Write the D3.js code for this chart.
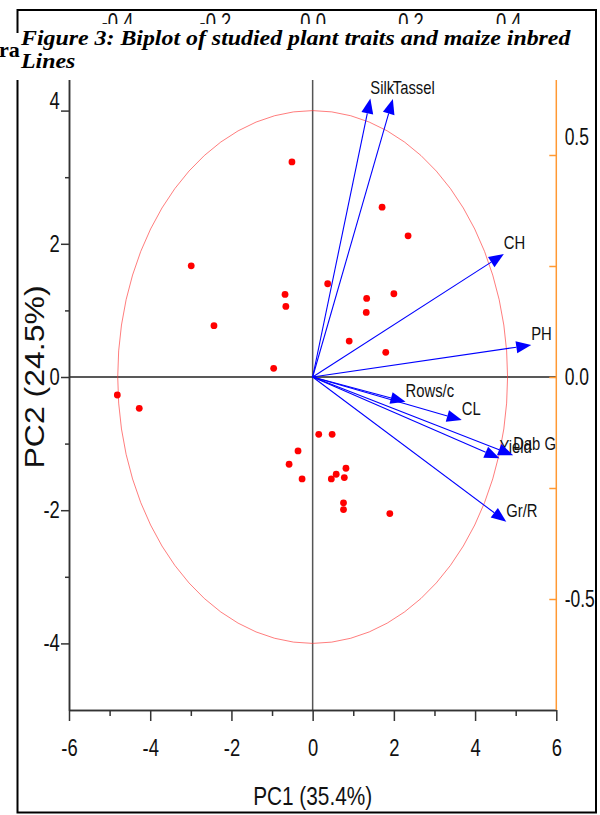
<!DOCTYPE html>
<html>
<head>
<meta charset="utf-8">
<script src="https://cdn.jsdelivr.net/npm/d3@7"></script>
<style>
  html, body { margin: 0; padding: 0; background: #fff; }
  svg { display: block; }
  text { font-family: "Liberation Sans", Arial, sans-serif; }
</style>
</head>
<body>
<svg id="chart" width="600" height="815"></svg>
<script>
// Principal component scores of the maize inbred lines
const scoresPC1 = [-0.51, 1.71, 2.35, -2.99, 0.37, -0.68, -0.66, 1.33, 2.00, 1.32,
                   -2.43, 0.90, 1.80, -0.96, -4.81, -4.27, 0.15, 0.48, -0.36, -0.58,
                   -0.26, 0.82, 0.58, 0.46, 0.78, 0.76, 0.76, 1.90];
const scoresPC2 = [3.23, 2.55, 2.12, 1.67, 1.40, 1.24, 1.06, 1.18, 1.25, 0.97,
                   0.77, 0.54, 0.37, 0.13, -0.27, -0.47, -0.86, -0.86, -1.11, -1.31,
                   -1.53, -1.37, -1.46, -1.53, -1.51, -1.89, -1.99, -2.05];

// Trait loadings, read on the top (PC1) and right (PC2) axes
const traits  = ["Silk", "Tassel", "CH", "PH", "Rows/c", "CL", "Yield", "Dab G", "Gr/R"];
const loadPC1 = [0.118, 0.164, 0.391, 0.447, 0.190, 0.305, 0.382, 0.410, 0.396];
const loadPC2 = [0.627, 0.626, 0.277, 0.072, -0.056, -0.097, -0.183, -0.176, -0.326];

// Axis ticks
const pc1Major = [-6, -4, -2, 0, 2, 4, 6];
const pc1Minor = [-5, -3, -1, 1, 3, 5];
const pc2Major = [-4, -2, 0, 2, 4];
const pc2Minor = [-3, -1, 1, 3];
const loadXTicks = [-0.4, -0.2, 0.0, 0.2, 0.4];
const loadYTicks = [-0.5, -0.25, 0.0, 0.25, 0.5];
const loadYLabels = [-0.5, 0.0, 0.5];

// Reference ellipse (PC units)
const ellipseRadii = [4.8, 4.0];

const xTitle = "PC1 (35.4%)";
const yTitle = "PC2 (24.5%)";
const captionLines = ["Figure 3: Biplot of studied plant traits and maize inbred", "Lines"];
const captionLead = "ra";

const SQUEEZE = 0.8;           // narrow glyph look of the plot text
const TICK_FONT = 23;
const AXIS = "#333";
const ORANGE = "#ff9933";

const svg = d3.select("#chart");

const x = d3.scaleLinear().domain([-6, 6]).range([69, 556.3]);
const y = d3.scaleLinear().domain([-5, 5]).range([710, 44]);
const xl = d3.scaleLinear().domain([-0.5, 0.5]).range([x(0) - 244.5, x(0) + 244.5]);
const yl = d3.scaleLinear().domain([-0.75, 0.75]).range([710, 44]);

// Outer frame
svg.append("rect")
  .attr("x", 17.5).attr("y", 10).attr("width", 578.5).attr("height", 802.5)
  .attr("fill", "none").attr("stroke", "#000").attr("stroke-width", 2);

const plot = svg.append("g");

function styleAxis(g, color, squeeze = SQUEEZE) {
  g.select(".domain").attr("stroke", color).attr("stroke-width", 1.5);
  g.selectAll(".tick line").attr("stroke", color).attr("stroke-width", 1.5);
  g.selectAll(".tick text")
    .attr("fill", "#111")
    .style("font-size", TICK_FONT + "px")
    .attr("transform", `scale(${squeeze},1)`);
}

// Zero lines
plot.append("line")
  .attr("x1", x(0)).attr("x2", x(0)).attr("y1", y.range()[1]).attr("y2", y(-5))
  .attr("stroke", "#555").attr("stroke-width", 1.5);
plot.append("line")
  .attr("x1", x(-6)).attr("x2", x(6)).attr("y1", y(0)).attr("y2", y(0))
  .attr("stroke", "#222").attr("stroke-width", 1.5);

// Bottom axis (PC1 scores)
const gxMinor = plot.append("g").attr("transform", `translate(0,${y(-5)})`)
  .call(d3.axisBottom(x).tickValues(pc1Minor).tickSize(6).tickSizeOuter(0).tickFormat(""));
styleAxis(gxMinor, AXIS);
const gx = plot.append("g").attr("transform", `translate(0,${y(-5)})`)
  .call(d3.axisBottom(x).tickValues(pc1Major).tickSizeInner(11).tickSizeOuter(0)
        .tickPadding(19).tickFormat(d => String(d)));
styleAxis(gx, AXIS);

// Left axis (PC2 scores)
const gyMinor = plot.append("g").attr("transform", `translate(${x(-6)},0)`)
  .call(d3.axisLeft(y).tickValues(pc2Minor).tickSize(4).tickSizeOuter(0).tickFormat(""));
styleAxis(gyMinor, AXIS);
const gy = plot.append("g").attr("transform", `translate(${x(-6)},0)`)
  .call(d3.axisLeft(y).tickValues(pc2Major).tickSizeInner(8).tickSizeOuter(0)
        .tickPadding(3.5).tickFormat(d => String(d)));
styleAxis(gy, AXIS);
gy.selectAll(".tick text").filter(d => d === d3.max(pc2Major)).attr("dy", "-0.1em");

// Top axis (PC1 loadings)
const gtop = plot.append("g").attr("transform", `translate(0,${y.range()[1]})`)
  .call(d3.axisTop(xl).tickValues(loadXTicks).tickSizeInner(6).tickSizeOuter(0)
        .tickPadding(8.5).tickFormat(d => d.toFixed(1)));
styleAxis(gtop, AXIS);

// Right axis (PC2 loadings)
const gright = plot.append("g").attr("transform", `translate(${x(6)},0)`)
  .call(d3.axisRight(yl).tickValues(loadYTicks).tickSizeInner(-7).tickSizeOuter(0)
        .tickPadding(11)
        .tickFormat(d => loadYLabels.includes(d) ? d.toFixed(1) : ""));
styleAxis(gright, ORANGE, 0.76);
gright.select(".domain").attr("d", `M0,${yl(-0.75)}V${y.range()[1]}`);
gright.selectAll(".tick text").filter(d => d === d3.max(loadYLabels)).attr("dy", "-0.45em");

// Reference ellipse
plot.append("ellipse")
  .attr("cx", x(0)).attr("cy", y(0))
  .attr("rx", x(ellipseRadii[0]) - x(0))
  .attr("ry", y(0) - y(ellipseRadii[1]))
  .attr("fill", "none").attr("stroke", "#ff3333").attr("stroke-width", 0.8)
  .attr("stroke-opacity", 0.8);

// Inbred line scores
plot.append("g").selectAll("circle")
  .data(scoresPC1.map((v, i) => [v, scoresPC2[i]]))
  .join("circle")
  .attr("cx", d => x(d[0])).attr("cy", d => y(d[1]))
  .attr("r", 3.4).attr("fill", "#ff0000");

// Trait loading vectors
const ox = xl(0), oy = yl(0);
const headLen = 15, headHalf = 6;
const vectors = plot.append("g");
traits.forEach((name, i) => {
  const tx = xl(loadPC1[i]), ty = yl(loadPC2[i]);
  const ang = Math.atan2(ty - oy, tx - ox);
  const bx = tx - headLen * Math.cos(ang), by = ty - headLen * Math.sin(ang);
  const px = -Math.sin(ang) * headHalf, py = Math.cos(ang) * headHalf;
  vectors.append("line")
    .attr("x1", ox).attr("y1", oy).attr("x2", bx).attr("y2", by)
    .attr("stroke", "#0000ff").attr("stroke-width", 1.1);
  vectors.append("path")
    .attr("d", `M${tx},${ty}L${bx + px},${by + py}L${bx - px},${by - py}Z`)
    .attr("fill", "#0000ff");
  vectors.append("text")
    .attr("transform", `translate(${tx},${ty - 5}) scale(${SQUEEZE},1)`)
    .style("font-size", "18.5px").attr("fill", "#111")
    .text(name);
});

// Axis titles
plot.append("text")
  .attr("transform", `translate(${x(0)},805) scale(${SQUEEZE},1)`)
  .attr("text-anchor", "middle").style("font-size", "26px").attr("fill", "#111")
  .text(xTitle);
plot.append("text")
  .attr("transform", `translate(44,${y(0)}) scale(0.85,1) rotate(-90)`)
  .attr("text-anchor", "middle").style("font-size", "32px").attr("fill", "#111")
  .text(yTitle);

// Caption laid over the top of the figure
const serif = "'Liberation Serif', 'Times New Roman', serif";
svg.append("rect").attr("x", 0).attr("y", 33).attr("width", 21).attr("height", 47).attr("fill", "#fff");
svg.append("rect").attr("x", 21).attr("y", 24).attr("width", 573).attr("height", 56).attr("fill", "#fff");
svg.append("text")
  .attr("transform", "translate(-1,57) scale(1.05,1)")
  .style("font-family", serif)
  .style("font-weight", "bold").style("font-size", "21px")
  .text(captionLead);
const cap = svg.append("text")
  .attr("transform", "translate(21,0) scale(1.11,1)")
  .style("font-family", serif)
  .style("font-weight", "bold").style("font-style", "italic").style("font-size", "21.5px");
captionLines.forEach((t, i) => {
  cap.append("tspan").attr("x", 0).attr("y", 45 + i * 23).text(t);
});
</script>
</body>
</html>
